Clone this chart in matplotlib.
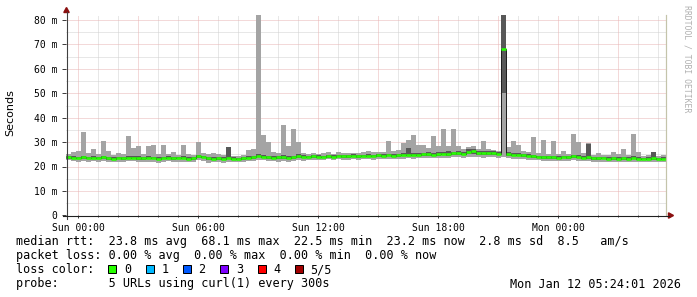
import numpy as np
import matplotlib
matplotlib.use("Agg")
import matplotlib.pyplot as plt
from matplotlib.patches import Rectangle, Polygon
from matplotlib.lines import Line2D

# ---------------- data (ms), 15-minute steps starting Sat 23:24 ----------------
t_start = -0.6          # hours relative to Sun 00:00
t_step = 0.25           # hours per sample

med = [23.8, 23.6, 23.5, 23.7, 23.4, 23.6, 23.5, 23.7, 23.4, 23.2,
       23.4, 23.3, 23.5, 23.6, 23.4, 23.3, 23.5, 23.4, 23.2, 23.4,
       23.6, 23.3, 23.5, 23.4, 23.2, 23.3, 24.2, 23.9, 23.4, 23.2,
       23.3, 23.1, 23.6, 23.2, 23.1, 23.3, 23.5, 23.8, 24.4, 24.0,
       23.8, 23.6, 23.7, 23.9, 23.6, 23.8, 24.3, 24.0, 23.9, 24.2,
       24.0, 23.9, 24.1, 24.0, 24.3, 24.1, 24.2, 24.4, 24.2, 24.3,
       24.5, 24.3, 24.6, 24.4, 24.7, 24.5, 24.6, 24.8, 24.9, 24.7,
       24.9, 25.0, 25.1, 24.9, 25.2, 25.3, 25.2, 25.4, 25.6, 25.3,
       25.8, 26.4, 25.6, 25.4, 25.6, 25.5, 25.3, 68.1, 25.0, 24.8,
       24.9, 24.6, 24.3, 24.1, 23.9, 23.8, 23.7, 23.8, 23.6, 23.9,
       23.8, 24.2, 24.0, 23.6, 23.7, 23.4, 23.3, 23.4, 23.2, 23.3,
       23.1, 23.3, 23.2, 23.4, 23.1, 23.0, 23.2, 23.3, 23.0, 23.2]

lo = [22.5, 22.3, 22.0, 22.2, 22.0, 22.3, 22.0, 22.4, 21.8, 21.7,
      22.0, 21.8, 22.1, 22.2, 21.9, 21.8, 22.0, 21.7, 21.6, 22.0,
      22.2, 21.8, 21.9, 22.0, 21.7, 21.8, 22.5, 22.2, 21.5, 21.8,
      21.7, 21.6, 22.0, 21.8, 21.9, 22.0, 22.1, 22.3, 22.8, 22.6,
      22.4, 22.2, 22.0, 22.3, 22.0, 22.3, 22.6, 22.4, 22.6, 22.8,
      22.5, 22.7, 22.9, 22.6, 22.9, 22.7, 22.8, 23.0, 22.8, 22.9,
      23.0, 22.8, 23.1, 22.9, 23.2, 23.0, 23.1, 23.2, 23.3, 23.1,
      23.3, 23.4, 23.5, 23.3, 23.5, 23.6, 23.4, 23.7, 23.8, 23.6,
      23.9, 24.0, 23.7, 23.6, 23.8, 23.7, 23.5, 23.8, 23.5, 23.2,
      23.0, 22.9, 22.7, 22.6, 22.5, 22.4, 22.3, 22.4, 22.2, 22.3,
      22.4, 22.6, 22.4, 22.2, 22.3, 22.0, 21.9, 22.0, 21.8, 21.9,
      21.7, 21.9, 21.8, 22.0, 21.8, 21.7, 21.9, 21.8, 21.7, 21.9]

hi = [25.3, 25.8, 26.5, 34.0, 25.5, 27.0, 25.0, 30.3, 26.5, 24.8,
      25.5, 25.2, 32.3, 27.5, 28.5, 25.0, 28.6, 28.8, 25.0, 29.0,
      25.2, 26.0, 24.9, 29.0, 25.0, 24.8, 30.0, 25.5, 25.3, 25.5,
      25.0, 24.6, 28.0, 24.5, 24.3, 24.6, 26.8, 27.2, 90.0, 33.0,
      30.0, 26.0, 25.5, 37.0, 28.5, 35.2, 30.0, 25.5, 25.2, 25.6,
      25.0, 25.4, 25.8, 25.3, 25.9, 25.4, 25.6, 25.7, 25.5, 26.0,
      26.2, 26.0, 25.8, 26.0, 30.5, 26.2, 26.8, 29.8, 31.0, 33.0,
      29.0, 29.0, 27.5, 32.5, 28.5, 35.5, 28.5, 35.2, 28.2, 27.0,
      27.8, 28.5, 27.2, 30.5, 27.0, 26.8, 26.5, 99.0, 28.0, 30.5,
      28.8, 26.5, 25.8, 32.0, 25.5, 31.0, 25.2, 30.5, 25.0, 26.5,
      25.2, 33.5, 30.0, 25.5, 29.8, 24.8, 25.5, 24.7, 24.6, 26.0,
      25.0, 27.0, 24.8, 33.5, 26.0, 24.5, 24.7, 26.0, 24.4, 24.7]

p2 = [23.2, 23.0, 23.0, 23.1, 22.9, 23.0, 23.0, 23.2, 22.8, 22.7,
      22.9, 22.7, 23.0, 23.0, 22.8, 22.8, 23.0, 22.9, 22.7, 22.9,
      23.0, 22.8, 23.0, 22.9, 22.7, 22.8, 23.5, 23.3, 22.8, 22.6,
      22.8, 22.6, 23.0, 22.7, 22.6, 22.8, 23.0, 23.2, 23.8, 23.4,
      23.2, 23.0, 23.1, 23.2, 23.0, 23.1, 23.6, 23.4, 23.3, 23.6,
      23.4, 23.4, 23.5, 23.4, 23.7, 23.6, 23.6, 23.8, 23.6, 23.7,
      23.9, 23.7, 24.0, 23.8, 24.1, 23.9, 24.0, 24.2, 24.2, 24.1,
      24.3, 24.4, 24.5, 24.3, 24.5, 24.6, 24.5, 24.7, 24.9, 24.6,
      25.0, 25.3, 24.8, 24.7, 24.9, 24.8, 24.6, 50.0, 24.3, 24.1,
      24.2, 24.0, 23.7, 23.5, 23.3, 23.2, 23.1, 23.2, 23.0, 23.3,
      23.2, 23.5, 23.3, 23.0, 23.1, 22.8, 22.7, 22.9, 22.7, 22.8,
      22.6, 22.8, 22.6, 22.9, 22.6, 22.5, 22.7, 22.8, 22.5, 22.7]

p4 = [24.3, 24.2, 24.0, 24.5, 24.0, 24.1, 24.0, 24.4, 24.0, 23.8,
      24.0, 23.9, 24.2, 24.3, 24.1, 23.9, 24.1, 24.0, 23.8, 24.0,
      24.2, 23.9, 24.0, 24.1, 23.8, 23.9, 24.8, 24.5, 24.0, 23.8,
      24.0, 23.7, 27.8, 23.8, 23.6, 23.8, 24.1, 24.4, 25.0, 24.8,
      24.5, 24.2, 24.3, 24.6, 24.5, 24.4, 25.0, 24.6, 24.5, 24.8,
      24.6, 24.5, 24.7, 24.6, 24.9, 24.7, 24.8, 25.0, 24.8, 24.9,
      25.1, 24.9, 25.2, 25.0, 25.3, 25.1, 25.2, 25.6, 27.6, 25.5,
      25.5, 25.7, 25.8, 25.6, 25.9, 26.0, 26.2, 26.1, 26.4, 26.0,
      27.0, 27.2, 26.4, 26.2, 26.3, 26.2, 26.0, 95.0, 25.8, 25.6,
      25.5, 25.3, 25.0, 24.8, 24.5, 24.4, 24.3, 24.4, 24.2, 24.5,
      24.4, 24.9, 24.6, 24.2, 29.2, 24.0, 23.9, 24.0, 23.8, 23.9,
      23.7, 24.0, 23.8, 24.1, 23.7, 23.6, 23.8, 26.0, 23.6, 23.8]

x_tick_hours = [0, 6, 12, 18, 24]
x_tick_labels = ["Sun 00:00", "Sun 06:00", "Sun 12:00", "Sun 18:00", "Mon 00:00"]
y_ticks = [0, 10, 20, 30, 40, 50, 60, 70, 80]
y_tick_labels = ["0", "10 m", "20 m", "30 m", "40 m", "50 m", "60 m", "70 m", "80 m"]

loss_labels = ["0", "1", "2", "3", "4", "5/5"]
loss_colors = ["#26ff00", "#00b8ff", "#0059ff", "#7e00ff", "#ff0000", "#a00000"]

legend_rows = [
    "median rtt:  23.8 ms avg  68.1 ms max  22.5 ms min  23.2 ms now  2.8 ms sd  8.5   am/s",
    "packet loss: 0.00 % avg  0.00 % max  0.00 % min  0.00 % now",
    "loss color:",
    "probe:       5 URLs using curl(1) every 300s",
]
stamp = "Mon Jan 12 05:24:01 2026"

# ---------------- figure ----------------
W, H = 697, 297
fig = plt.figure(figsize=(W / 100, H / 100), dpi=100)
fig.patch.set_facecolor("white")


def fx(px):
    return px / W


def fy(py):
    return 1 - py / H


AX_L, AX_R, AX_T, AX_B = 66.0, 666.0, 15.0, 215.3
ax = fig.add_axes([fx(AX_L), fy(AX_B), (AX_R - AX_L) / W, (AX_B - AX_T) / H])
n = len(med)
edges = t_start + t_step * np.arange(n + 1)
ax.set_xlim(edges[0], edges[-1])
ax.set_ylim(0, (AX_B - AX_T) / 2.44)
ax.set_facecolor("white")
for s in ax.spines.values():
    s.set_visible(False)

# grid (dotted)
px = 0.72
gkw = dict(lw=px, ls=(0, (1, 1)))
for h in np.arange(0.0, 29.5, 1.0):
    if h % 3 != 0:
        ax.axvline(h, color="#d0d0d0", zorder=0, **gkw)
for h in np.arange(0.0, 29.5, 3.0):
    ax.axvline(h, color="#e8b4b4", zorder=0.5, **gkw)
for v in np.arange(5, 82, 10):
    ax.axhline(v, color="#d0d0d0", zorder=0, **gkw)
for v in y_ticks[1:]:
    ax.axhline(v, color="#e8b4b4", zorder=0.5, **gkw)

# smoke
ax.stairs(hi, edges, baseline=lo, fill=True, color="#a4a4a4", lw=0, zorder=2)
ax.stairs(p4, edges, baseline=p2, fill=True, color="#585858", lw=0, zorder=3)
# median
ax.stairs(med, edges, baseline=None, color="#202020", lw=px, zorder=4)
ax.hlines(med, edges[:-1], edges[1:], colors=loss_colors[0], lw=2.6 * px, zorder=5)

# right border line
ax.axvline(edges[-1], color="#c4c4aa", lw=1.2 * px, zorder=6, clip_on=False)

# ticks
ax.set_xticks(x_tick_hours)
ax.set_xticklabels(x_tick_labels)
ax.set_xticks(np.arange(0, 29.5, 1.0), minor=True)
ax.set_yticks(y_ticks)
ax.set_yticklabels(y_tick_labels)
ax.tick_params(axis="x", which="major", length=2.2, width=px, color="#404040",
               pad=3.0, labelsize=7)
ax.tick_params(axis="x", which="minor", length=1.6, width=px, color="#404040")
ax.tick_params(axis="y", which="major", length=2.8, width=px, color="#404040",
               pad=3.5, labelsize=7)
for lab in ax.get_xticklabels() + ax.get_yticklabels():
    lab.set_fontfamily("DejaVu Sans Mono")

# axes lines and arrows (figure pixel coords)
fig.add_artist(Line2D([fx(66.5), fx(66.5)], [fy(218.5), fy(11.5)], color="#404040", lw=1.1 * px))
fig.add_artist(Line2D([fx(63.0), fx(669.0)], [fy(215.5), fy(215.5)], color="#202020", lw=1.1 * px))
fig.add_artist(Polygon([(fx(63.8), fy(12.5)), (fx(69.2), fy(12.5)), (fx(66.5), fy(7.5))],
                       closed=True, color="#8b1010", transform=fig.transFigure))
fig.add_artist(Polygon([(fx(668.5), fy(212.8)), (fx(668.5), fy(218.2)), (fx(673.5), fy(215.5))],
                       closed=True, color="#8b1010", transform=fig.transFigure))

# labels
fig.text(fx(10), fy(113), "Seconds", rotation=90, ha="center", va="center",
         fontsize=8, family="DejaVu Sans")
fig.text(fx(687.5), fy(5), "RRDTOOL / TOBI OETIKER", rotation=270, ha="center", va="top",
         fontsize=5.9, family="DejaVu Sans Mono", color="#b0b0b0")

# legend
mono = "DejaVu Sans Mono"
baselines = [245.0, 259.2, 273.3, 287.4]
for row, b in zip(legend_rows, baselines):
    fig.text(fx(16), fy(b), row, ha="left", va="baseline", fontsize=8.5, family=mono)
fig.text(fx(681), fy(287.6), stamp, ha="right", va="baseline", fontsize=8.5, family=mono)

box_x0, box_dx = 108.3, 37.35
for k, (lab, col) in enumerate(zip(loss_labels, loss_colors)):
    bx = box_x0 + k * box_dx
    fig.add_artist(Rectangle((fx(bx), fy(273.0)), 8 / W, 8 / H, transform=fig.transFigure,
                             facecolor=col, edgecolor="black", lw=px))
    fig.text(fx(bx + 15.5), fy(273.3), lab, ha="left", va="baseline", fontsize=8.5, family=mono)

fig.savefig("out.png", dpi=100, facecolor="white")
